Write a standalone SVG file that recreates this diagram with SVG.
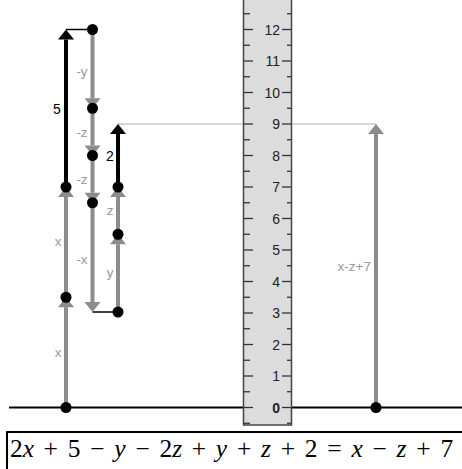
<svg xmlns="http://www.w3.org/2000/svg" width="462" height="469" viewBox="0 0 462 469">
<style>
.g{stroke:#8c8c8c;stroke-width:4;fill:none}
.b{stroke:#000;stroke-width:4;fill:none}
.thin{stroke:#000;stroke-width:1.5;fill:none}
.dot{fill:#000}
.lbl{font-family:"Liberation Sans",Arial,sans-serif;font-size:13.5px;fill:#9a9a9a}
.lblb{font-family:"Liberation Sans",Arial,sans-serif;font-size:14px;fill:#000}
.num{font-family:"Liberation Sans",Arial,sans-serif;font-size:14px;fill:#222;text-anchor:end}
.tick{stroke:#333;stroke-width:1.3}
.eq{font-family:"Liberation Serif","Times New Roman",serif;font-size:25.5px;fill:#000}
.it{font-style:italic}
</style>
<defs>
<marker id="hg" markerUnits="userSpaceOnUse" markerWidth="10" markerHeight="16" viewBox="0 -8 10 16" refX="0" refY="0" orient="auto" overflow="visible"><path d="M0,-8 L10,0 L0,8 Z" fill="#8c8c8c"/></marker>
<marker id="hb" markerUnits="userSpaceOnUse" markerWidth="10" markerHeight="16" viewBox="0 -8 10 16" refX="0" refY="0" orient="auto" overflow="visible"><path d="M0,-8 L10,0 L0,8 Z" fill="#000"/></marker>
</defs>

<g id="guides">
<line x1="118" y1="124" x2="376" y2="124" stroke="#c8c8c8" stroke-width="1.5"/>
<line x1="9" y1="407.5" x2="462" y2="407.5" stroke="#000" stroke-width="2"/>
</g>

<g id="ruler">
<rect x="243.5" y="-2" width="48" height="427" fill="#dcdcdc" stroke="#444" stroke-width="1.5"/>
<g class="tick">
<line x1="244" y1="423.25" x2="250" y2="423.25"/><line x1="287" y1="423.25" x2="291" y2="423.25"/>
<line x1="244" y1="407.5" x2="253" y2="407.5"/><line x1="282" y1="407.5" x2="291" y2="407.5"/>
<line x1="244" y1="391.75" x2="250" y2="391.75"/><line x1="287" y1="391.75" x2="291" y2="391.75"/>
<line x1="244" y1="376" x2="253" y2="376"/><line x1="282" y1="376" x2="291" y2="376"/>
<line x1="244" y1="360.25" x2="250" y2="360.25"/><line x1="287" y1="360.25" x2="291" y2="360.25"/>
<line x1="244" y1="344.5" x2="253" y2="344.5"/><line x1="282" y1="344.5" x2="291" y2="344.5"/>
<line x1="244" y1="328.75" x2="250" y2="328.75"/><line x1="287" y1="328.75" x2="291" y2="328.75"/>
<line x1="244" y1="313" x2="253" y2="313"/><line x1="282" y1="313" x2="291" y2="313"/>
<line x1="244" y1="297.25" x2="250" y2="297.25"/><line x1="287" y1="297.25" x2="291" y2="297.25"/>
<line x1="244" y1="281.5" x2="253" y2="281.5"/><line x1="282" y1="281.5" x2="291" y2="281.5"/>
<line x1="244" y1="265.75" x2="250" y2="265.75"/><line x1="287" y1="265.75" x2="291" y2="265.75"/>
<line x1="244" y1="250" x2="253" y2="250"/><line x1="282" y1="250" x2="291" y2="250"/>
<line x1="244" y1="234.25" x2="250" y2="234.25"/><line x1="287" y1="234.25" x2="291" y2="234.25"/>
<line x1="244" y1="218.5" x2="253" y2="218.5"/><line x1="282" y1="218.5" x2="291" y2="218.5"/>
<line x1="244" y1="202.75" x2="250" y2="202.75"/><line x1="287" y1="202.75" x2="291" y2="202.75"/>
<line x1="244" y1="187" x2="253" y2="187"/><line x1="282" y1="187" x2="291" y2="187"/>
<line x1="244" y1="171.25" x2="250" y2="171.25"/><line x1="287" y1="171.25" x2="291" y2="171.25"/>
<line x1="244" y1="155.5" x2="253" y2="155.5"/><line x1="282" y1="155.5" x2="291" y2="155.5"/>
<line x1="244" y1="139.75" x2="250" y2="139.75"/><line x1="287" y1="139.75" x2="291" y2="139.75"/>
<line x1="244" y1="124" x2="253" y2="124"/><line x1="282" y1="124" x2="291" y2="124"/>
<line x1="244" y1="108.25" x2="250" y2="108.25"/><line x1="287" y1="108.25" x2="291" y2="108.25"/>
<line x1="244" y1="92.5" x2="253" y2="92.5"/><line x1="282" y1="92.5" x2="291" y2="92.5"/>
<line x1="244" y1="76.75" x2="250" y2="76.75"/><line x1="287" y1="76.75" x2="291" y2="76.75"/>
<line x1="244" y1="61" x2="253" y2="61"/><line x1="282" y1="61" x2="291" y2="61"/>
<line x1="244" y1="45.25" x2="250" y2="45.25"/><line x1="287" y1="45.25" x2="291" y2="45.25"/>
<line x1="244" y1="29.5" x2="253" y2="29.5"/><line x1="282" y1="29.5" x2="291" y2="29.5"/>
<line x1="244" y1="13.75" x2="250" y2="13.75"/><line x1="287" y1="13.75" x2="291" y2="13.75"/>
</g>
<g class="num">
<text x="280" y="412.5" font-weight="bold">0</text>
<text x="280" y="381">1</text>
<text x="280" y="349.5">2</text>
<text x="280" y="318">3</text>
<text x="280" y="286.5">4</text>
<text x="280" y="255">5</text>
<text x="280" y="223.5">6</text>
<text x="280" y="192">7</text>
<text x="280" y="160.5">8</text>
<text x="280" y="129">9</text>
<text x="280" y="97.5">10</text>
<text x="280" y="66">11</text>
<text x="280" y="34.5">12</text>
</g>
</g>

<g id="connectors">
<line class="thin" x1="66" y1="29.5" x2="92.5" y2="29.5"/>
<line class="thin" x1="92.5" y1="312" x2="118" y2="312"/>
<line class="g" x1="66" y1="407.5" x2="66" y2="307.25" marker-end="url(#hg)"/>
<line class="g" x1="66" y1="297.25" x2="66" y2="197" marker-end="url(#hg)"/>
<line class="b" x1="66" y1="187" x2="66" y2="39.5" marker-end="url(#hb)"/>
<line class="g" x1="92.5" y1="29.5" x2="92.5" y2="98.25" marker-end="url(#hg)"/>
<line class="g" x1="92.5" y1="108.25" x2="92.5" y2="145.5" marker-end="url(#hg)"/>
<line class="g" x1="92.5" y1="155.5" x2="92.5" y2="192.75" marker-end="url(#hg)"/>
<line class="g" x1="92.5" y1="202.75" x2="92.5" y2="302" marker-end="url(#hg)"/>
<line class="g" x1="118" y1="312" x2="118" y2="244.25" marker-end="url(#hg)"/>
<line class="g" x1="118" y1="234.25" x2="118" y2="197" marker-end="url(#hg)"/>
<line class="b" x1="118" y1="187" x2="118" y2="134" marker-end="url(#hb)"/>
<line class="g" x1="376" y1="407.5" x2="376" y2="134" marker-end="url(#hg)"/>
</g>

<g id="labels">
<text class="lbl" x="58" y="357" text-anchor="middle">x</text>
<text class="lbl" x="58" y="246" text-anchor="middle">x</text>
<text class="lblb" x="57" y="114" text-anchor="middle">5</text>
<text class="lbl" x="82" y="76" text-anchor="middle">-y</text>
<text class="lbl" x="82" y="137" text-anchor="middle">-z</text>
<text class="lbl" x="82" y="184" text-anchor="middle">-z</text>
<text class="lbl" x="82" y="264" text-anchor="middle">-x</text>
<text class="lbl" x="110" y="277" text-anchor="middle">y</text>
<text class="lbl" x="110" y="215" text-anchor="middle">z</text>
<text class="lblb" x="110" y="161" text-anchor="middle">2</text>
<text class="lbl" x="371" y="271" text-anchor="end">x-z+7</text>
</g>

<g id="dots">
<circle class="dot" cx="66" cy="407.5" r="5.5"/>
<circle class="dot" cx="66" cy="297.25" r="5.5"/>
<circle class="dot" cx="66" cy="187" r="5.5"/>
<circle class="dot" cx="92.5" cy="29.5" r="5.5"/>
<circle class="dot" cx="92.5" cy="108.25" r="5.5"/>
<circle class="dot" cx="92.5" cy="155.5" r="5.5"/>
<circle class="dot" cx="92.5" cy="202.75" r="5.5"/>
<circle class="dot" cx="118" cy="312" r="5.5"/>
<circle class="dot" cx="118" cy="234.25" r="5.5"/>
<circle class="dot" cx="118" cy="187" r="5.5"/>
<circle class="dot" cx="376" cy="407.5" r="5.5"/>
</g>

<g id="equation">
<rect x="7" y="432" width="470" height="50" fill="#fff" stroke="#000" stroke-width="2"/>
<text class="eq" y="457"><tspan x="10">2</tspan><tspan class="it">x</tspan><tspan x="43.6">+</tspan><tspan x="67.7">5</tspan><tspan x="90.2">−</tspan><tspan x="114.3" class="it">y</tspan><tspan x="135.4">−</tspan><tspan x="159.5">2</tspan><tspan class="it">z</tspan><tspan x="191.7">+</tspan><tspan x="215.8" class="it">y</tspan><tspan x="236.9">+</tspan><tspan x="261" class="it">z</tspan><tspan x="280.7">+</tspan><tspan x="304.8">2</tspan><tspan x="327.3">=</tspan><tspan x="351.4" class="it">x</tspan><tspan x="372.5">−</tspan><tspan x="396.6" class="it">z</tspan><tspan x="416.3">+</tspan><tspan x="440.4">7</tspan></text>
</g>
</svg>
